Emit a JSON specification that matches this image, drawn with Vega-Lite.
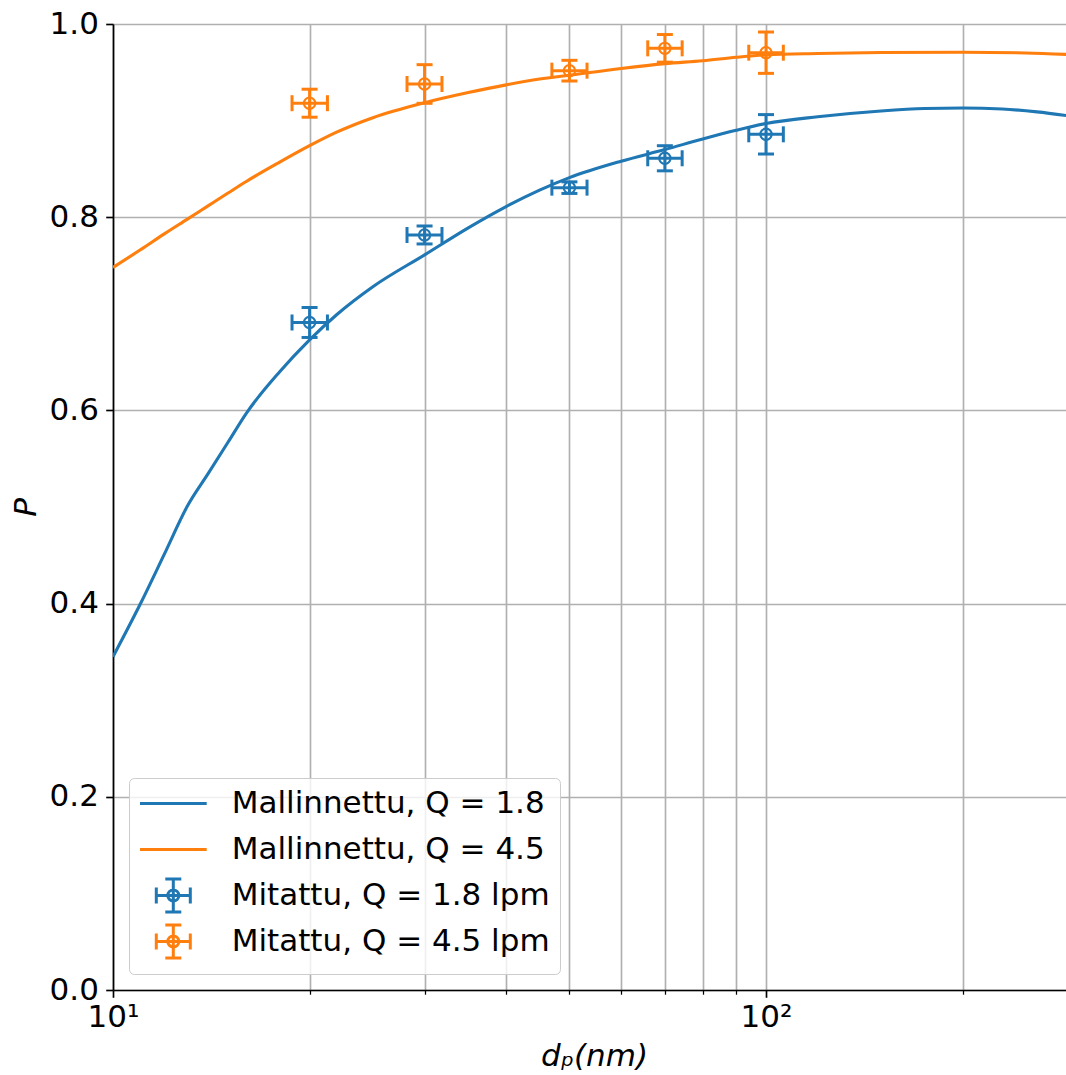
{
  "$schema": "https://vega.github.io/schema/vega-lite/v6.json",
  "autosize": {"type": "none"},
  "padding": {"left": 113, "top": 24, "right": 0, "bottom": 85},
  "width": 953,
  "height": 966,
  "background": "white",
  "config": {
    "view": {"stroke": null},
    "font": "DejaVu Sans",
    "axis": {
      "labelFont": "DejaVu Sans",
      "labelFontSize": 31,
      "labelColor": "black",
      "titleFont": "DejaVu Sans",
      "titleFontSize": 31,
      "titleColor": "black",
      "titleFontWeight": "normal",
      "titleFontStyle": "italic",
      "domainColor": "black",
      "domainWidth": 1.67,
      "tickColor": "black",
      "gridColor": "#b0b0b0",
      "gridWidth": 1.67,
      "gridOpacity": 1
    },
    "legend": {
      "orient": "bottom-left",
      "offset": 16,
      "labelFont": "DejaVu Sans",
      "labelFontSize": 31,
      "labelColor": "black",
      "labelLimit": 0,
      "symbolSize": 400,
      "symbolStrokeWidth": 3,
      "symbolFillColor": "transparent",
      "symbolOpacity": 1,
      "labelOffset": 61.7,
      "padding": 10,
      "rowPadding": 1,
      "strokeColor": "#cccccc",
      "fillColor": "rgba(255,255,255,0.8)",
      "cornerRadius": 5
    }
  },
  "datasets": {
    "curves": [
      {"series": "Mallinnettu, Q = 1.8", "Q": "1.8", "dp": 10, "P": 0.345},
      {"series": "Mallinnettu, Q = 1.8", "Q": "1.8", "dp": 11, "P": 0.399},
      {"series": "Mallinnettu, Q = 1.8", "Q": "1.8", "dp": 12, "P": 0.452},
      {"series": "Mallinnettu, Q = 1.8", "Q": "1.8", "dp": 13, "P": 0.501},
      {"series": "Mallinnettu, Q = 1.8", "Q": "1.8", "dp": 14, "P": 0.535},
      {"series": "Mallinnettu, Q = 1.8", "Q": "1.8", "dp": 15, "P": 0.567},
      {"series": "Mallinnettu, Q = 1.8", "Q": "1.8", "dp": 16, "P": 0.597},
      {"series": "Mallinnettu, Q = 1.8", "Q": "1.8", "dp": 18, "P": 0.640},
      {"series": "Mallinnettu, Q = 1.8", "Q": "1.8", "dp": 20, "P": 0.673},
      {"series": "Mallinnettu, Q = 1.8", "Q": "1.8", "dp": 22, "P": 0.699},
      {"series": "Mallinnettu, Q = 1.8", "Q": "1.8", "dp": 25, "P": 0.728},
      {"series": "Mallinnettu, Q = 1.8", "Q": "1.8", "dp": 30, "P": 0.761},
      {"series": "Mallinnettu, Q = 1.8", "Q": "1.8", "dp": 35, "P": 0.789},
      {"series": "Mallinnettu, Q = 1.8", "Q": "1.8", "dp": 40, "P": 0.811},
      {"series": "Mallinnettu, Q = 1.8", "Q": "1.8", "dp": 45, "P": 0.828},
      {"series": "Mallinnettu, Q = 1.8", "Q": "1.8", "dp": 50, "P": 0.841},
      {"series": "Mallinnettu, Q = 1.8", "Q": "1.8", "dp": 60, "P": 0.858},
      {"series": "Mallinnettu, Q = 1.8", "Q": "1.8", "dp": 70, "P": 0.870},
      {"series": "Mallinnettu, Q = 1.8", "Q": "1.8", "dp": 80, "P": 0.881},
      {"series": "Mallinnettu, Q = 1.8", "Q": "1.8", "dp": 90, "P": 0.890},
      {"series": "Mallinnettu, Q = 1.8", "Q": "1.8", "dp": 100, "P": 0.897},
      {"series": "Mallinnettu, Q = 1.8", "Q": "1.8", "dp": 120, "P": 0.904},
      {"series": "Mallinnettu, Q = 1.8", "Q": "1.8", "dp": 150, "P": 0.910},
      {"series": "Mallinnettu, Q = 1.8", "Q": "1.8", "dp": 175, "P": 0.9125},
      {"series": "Mallinnettu, Q = 1.8", "Q": "1.8", "dp": 200, "P": 0.913},
      {"series": "Mallinnettu, Q = 1.8", "Q": "1.8", "dp": 230, "P": 0.912},
      {"series": "Mallinnettu, Q = 1.8", "Q": "1.8", "dp": 260, "P": 0.909},
      {"series": "Mallinnettu, Q = 1.8", "Q": "1.8", "dp": 290, "P": 0.905},
      {"series": "Mallinnettu, Q = 4.5", "Q": "4.5", "dp": 10, "P": 0.748},
      {"series": "Mallinnettu, Q = 4.5", "Q": "4.5", "dp": 11, "P": 0.766},
      {"series": "Mallinnettu, Q = 4.5", "Q": "4.5", "dp": 12, "P": 0.783},
      {"series": "Mallinnettu, Q = 4.5", "Q": "4.5", "dp": 13, "P": 0.798},
      {"series": "Mallinnettu, Q = 4.5", "Q": "4.5", "dp": 14, "P": 0.812},
      {"series": "Mallinnettu, Q = 4.5", "Q": "4.5", "dp": 15, "P": 0.825},
      {"series": "Mallinnettu, Q = 4.5", "Q": "4.5", "dp": 16, "P": 0.837},
      {"series": "Mallinnettu, Q = 4.5", "Q": "4.5", "dp": 18, "P": 0.857},
      {"series": "Mallinnettu, Q = 4.5", "Q": "4.5", "dp": 20, "P": 0.874},
      {"series": "Mallinnettu, Q = 4.5", "Q": "4.5", "dp": 22, "P": 0.888},
      {"series": "Mallinnettu, Q = 4.5", "Q": "4.5", "dp": 25, "P": 0.903},
      {"series": "Mallinnettu, Q = 4.5", "Q": "4.5", "dp": 30, "P": 0.9185},
      {"series": "Mallinnettu, Q = 4.5", "Q": "4.5", "dp": 35, "P": 0.929},
      {"series": "Mallinnettu, Q = 4.5", "Q": "4.5", "dp": 40, "P": 0.937},
      {"series": "Mallinnettu, Q = 4.5", "Q": "4.5", "dp": 45, "P": 0.943},
      {"series": "Mallinnettu, Q = 4.5", "Q": "4.5", "dp": 50, "P": 0.947},
      {"series": "Mallinnettu, Q = 4.5", "Q": "4.5", "dp": 60, "P": 0.954},
      {"series": "Mallinnettu, Q = 4.5", "Q": "4.5", "dp": 70, "P": 0.959},
      {"series": "Mallinnettu, Q = 4.5", "Q": "4.5", "dp": 80, "P": 0.962},
      {"series": "Mallinnettu, Q = 4.5", "Q": "4.5", "dp": 90, "P": 0.9655},
      {"series": "Mallinnettu, Q = 4.5", "Q": "4.5", "dp": 100, "P": 0.968},
      {"series": "Mallinnettu, Q = 4.5", "Q": "4.5", "dp": 120, "P": 0.9695},
      {"series": "Mallinnettu, Q = 4.5", "Q": "4.5", "dp": 150, "P": 0.9705},
      {"series": "Mallinnettu, Q = 4.5", "Q": "4.5", "dp": 200, "P": 0.9708},
      {"series": "Mallinnettu, Q = 4.5", "Q": "4.5", "dp": 250, "P": 0.970},
      {"series": "Mallinnettu, Q = 4.5", "Q": "4.5", "dp": 290, "P": 0.9685}
    ],
    "meas": [
      {"series": "Mitattu, Q = 1.8 lpm", "Q": "1.8", "dp": 20, "P": 0.691, "Plo": 0.6755, "Phi": 0.7065, "dlo": 18.8, "dhi": 21.3},
      {"series": "Mitattu, Q = 1.8 lpm", "Q": "1.8", "dp": 30, "P": 0.7816, "Plo": 0.7723, "Phi": 0.7909, "dlo": 28.2, "dhi": 31.9},
      {"series": "Mitattu, Q = 1.8 lpm", "Q": "1.8", "dp": 50, "P": 0.8306, "Plo": 0.8246, "Phi": 0.8366, "dlo": 47.0, "dhi": 53.2},
      {"series": "Mitattu, Q = 1.8 lpm", "Q": "1.8", "dp": 70, "P": 0.861, "Plo": 0.848, "Phi": 0.874, "dlo": 65.9, "dhi": 74.4},
      {"series": "Mitattu, Q = 1.8 lpm", "Q": "1.8", "dp": 100, "P": 0.8858, "Plo": 0.8654, "Phi": 0.9062, "dlo": 94.1, "dhi": 106.3},
      {"series": "Mitattu, Q = 4.5 lpm", "Q": "4.5", "dp": 20, "P": 0.918, "Plo": 0.9035, "Phi": 0.9325, "dlo": 18.8, "dhi": 21.3},
      {"series": "Mitattu, Q = 4.5 lpm", "Q": "4.5", "dp": 30, "P": 0.9379, "Plo": 0.9179, "Phi": 0.9579, "dlo": 28.2, "dhi": 31.9},
      {"series": "Mitattu, Q = 4.5 lpm", "Q": "4.5", "dp": 50, "P": 0.9517, "Plo": 0.941, "Phi": 0.9624, "dlo": 47.0, "dhi": 53.2},
      {"series": "Mitattu, Q = 4.5 lpm", "Q": "4.5", "dp": 70, "P": 0.9748, "Plo": 0.9605, "Phi": 0.9891, "dlo": 65.9, "dhi": 74.4},
      {"series": "Mitattu, Q = 4.5 lpm", "Q": "4.5", "dp": 100, "P": 0.9703, "Plo": 0.9489, "Phi": 0.9917, "dlo": 94.1, "dhi": 106.3}
    ]
  },
  "layer": [
    {
      "data": {"name": "curves"},
      "mark": {"type": "line", "strokeWidth": 3.1, "interpolate": "monotone", "clip": true},
      "encoding": {
        "x": {
          "field": "dp", "type": "quantitative",
          "scale": {"type": "log", "domain": [10, 288], "nice": false},
          "axis": {
            "title": "dₚ(nm)",
            "values": [10, 20, 30, 40, 50, 60, 70, 80, 90, 100, 200],
            "labelExpr": "datum.value == 10 ? '10¹' : (datum.value == 100 ? '10²' : '')",
            "labelFlush": false,
            "labelOverlap": false,
            "labelPadding": 5,
            "tickSize": {"condition": {"test": "datum.value == 10 || datum.value == 100", "value": 7.3}, "value": 4.2},
            "tickWidth": {"condition": {"test": "datum.value == 10 || datum.value == 100", "value": 1.67}, "value": 1.25},
            "grid": true,
            "titleX": 481,
            "titleY": 75,
            "titleBaseline": "alphabetic",
            "titleAlign": "center"
          }
        },
        "y": {
          "field": "P", "type": "quantitative",
          "scale": {"domain": [0, 1], "nice": false, "zero": false},
          "axis": {
            "title": "P",
            "values": [0, 0.2, 0.4, 0.6, 0.8, 1.0],
            "format": ".1f",
            "labelPadding": 7.3,
            "tickSize": 7.3,
            "tickWidth": 1.67,
            "grid": true,
            "titleX": -78,
            "titleY": 483,
            "titleAngle": 270,
            "titleAlign": "center",
            "titleBaseline": "alphabetic"
          }
        },
        "stroke": {
          "field": "Q", "type": "nominal", "legend": null,
          "scale": {"domain": ["1.8", "4.5"], "range": ["#1f77b4", "#ff7f0e"]}
        },
        "detail": {"field": "series"}
      }
    },
    {
      "mark": {"type": "rule", "color": "black", "strokeWidth": 1.67},
      "encoding": {"y": {"datum": 1}}
    },
    {
      "data": {"name": "meas"},
      "mark": {"type": "rule", "strokeWidth": 3},
      "encoding": {
        "x": {"field": "dp", "type": "quantitative"},
        "y": {"field": "Plo", "type": "quantitative"},
        "y2": {"field": "Phi"},
        "stroke": {"field": "Q", "type": "nominal", "legend": null}
      }
    },
    {
      "data": {"name": "meas"},
      "mark": {"type": "rule", "strokeWidth": 3},
      "encoding": {
        "y": {"field": "P", "type": "quantitative"},
        "x": {"field": "dlo", "type": "quantitative"},
        "x2": {"field": "dhi"},
        "stroke": {"field": "Q", "type": "nominal", "legend": null}
      }
    },
    {
      "data": {"name": "meas"},
      "mark": {"type": "tick", "orient": "horizontal", "size": 16, "thickness": 3, "opacity": 1},
      "encoding": {
        "x": {"field": "dp", "type": "quantitative"},
        "y": {"field": "Plo", "type": "quantitative"},
        "fill": {
          "field": "Q", "type": "nominal", "legend": null,
          "scale": {"domain": ["1.8", "4.5"], "range": ["#1f77b4", "#ff7f0e"]}
        }
      }
    },
    {
      "data": {"name": "meas"},
      "mark": {"type": "tick", "orient": "horizontal", "size": 16, "thickness": 3, "opacity": 1},
      "encoding": {
        "x": {"field": "dp", "type": "quantitative"},
        "y": {"field": "Phi", "type": "quantitative"},
        "fill": {"field": "Q", "type": "nominal", "legend": null}
      }
    },
    {
      "data": {"name": "meas"},
      "mark": {"type": "tick", "orient": "vertical", "size": 16, "thickness": 3, "opacity": 1},
      "encoding": {
        "x": {"field": "dlo", "type": "quantitative"},
        "y": {"field": "P", "type": "quantitative"},
        "fill": {"field": "Q", "type": "nominal", "legend": null}
      }
    },
    {
      "data": {"name": "meas"},
      "mark": {"type": "tick", "orient": "vertical", "size": 16, "thickness": 3, "opacity": 1},
      "encoding": {
        "x": {"field": "dhi", "type": "quantitative"},
        "y": {"field": "P", "type": "quantitative"},
        "fill": {"field": "Q", "type": "nominal", "legend": null}
      }
    },
    {
      "data": {"name": "meas"},
      "mark": {"type": "point", "shape": "circle", "filled": false, "fill": "transparent", "size": 128, "strokeWidth": 2.1, "opacity": 1},
      "encoding": {
        "x": {"field": "dp", "type": "quantitative"},
        "y": {"field": "P", "type": "quantitative"},
        "stroke": {"field": "Q", "type": "nominal", "legend": null}
      }
    },
    {
      "data": {"name": "meas"},
      "transform": [{"filter": "false"}],
      "mark": {"type": "point", "filled": false, "strokeWidth": 3, "opacity": 1},
      "encoding": {
        "x": {"field": "dp", "type": "quantitative"},
        "y": {"field": "P", "type": "quantitative"},
        "color": {
          "field": "series", "type": "nominal", "legend": {"title": null},
          "scale": {
            "domain": ["Mallinnettu, Q = 1.8", "Mallinnettu, Q = 4.5", "Mitattu, Q = 1.8 lpm", "Mitattu, Q = 4.5 lpm"],
            "range": ["#1f77b4", "#ff7f0e", "#1f77b4", "#ff7f0e"]
          }
        },
        "shape": {
          "field": "series", "type": "nominal",
          "legend": {"title": null},
          "scale": {
            "domain": ["Mallinnettu, Q = 1.8", "Mallinnettu, Q = 4.5", "Mitattu, Q = 1.8 lpm", "Mitattu, Q = 4.5 lpm"],
            "range": [
              "M-1.45,-1.65M-1.45,0H5.22M5.22,1.65",
              "M-1.45,-1.65M-1.45,0H5.22M5.22,1.65",
              "M0.18,0H3.58M1.88,-1.65V1.65M1.08,-1.65H2.68M1.08,1.65H2.68M0.18,-0.8V0.8M3.58,-0.8V0.8M2.43,0A0.55,0.55 0 1 1 1.33,0A0.55,0.55 0 1 1 2.43,0",
              "M0.18,0H3.58M1.88,-1.65V1.65M1.08,-1.65H2.68M1.08,1.65H2.68M0.18,-0.8V0.8M3.58,-0.8V0.8M2.43,0A0.55,0.55 0 1 1 1.33,0A0.55,0.55 0 1 1 2.43,0"
            ]
          }
        }
      }
    }
  ]
}
